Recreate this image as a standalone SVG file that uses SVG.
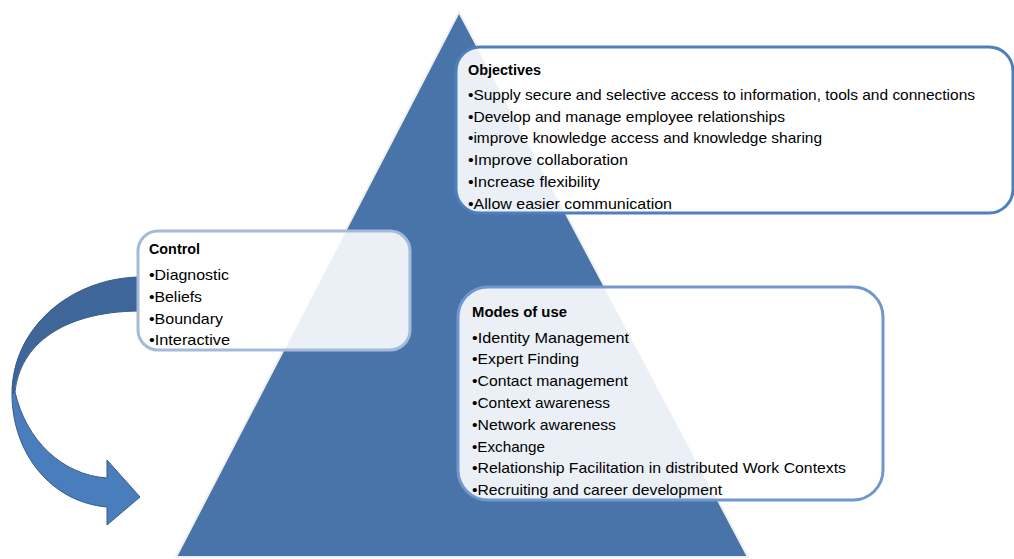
<svg xmlns="http://www.w3.org/2000/svg" width="1014" height="559" viewBox="0 0 1014 559">
<style>
.t{font-family:"Liberation Sans",Arial,sans-serif;font-size:15px;fill:#000}
.b{font-weight:bold}
.box{fill:#ffffff;fill-opacity:0.89;stroke-width:3}
</style>
<rect width="1014" height="559" fill="#ffffff"/>
<g id="pyramid">
<polygon points="459,12 748,557 176,557" fill="#4874aa" stroke="#f0f0f0" stroke-width="2"/>
</g>
<g id="connectors">
<path d="M138,277 C70,279 12,328 12,394 L15,392 C20,345 62,312 138,311 Z" fill="#3f6699" stroke="#385d8a" stroke-width="1"/>
<path d="M12,394 C12,452 50,502 107,507 L107,525 L140,497 L107,460 L107,478 C62,475 26,440 15,392 Z" fill="#4a7dbb" stroke="#385d8a" stroke-width="1"/>
</g>
<g id="objectives">
<rect class="box" x="456" y="47" width="557" height="166" rx="24" stroke="#4f7fbd"/>
<text class="t b" x="468" y="75" textLength="73" lengthAdjust="spacingAndGlyphs">Objectives</text>
<text class="t" x="468" y="100" textLength="507" lengthAdjust="spacingAndGlyphs">•Supply secure and selective access to information, tools and connections</text>
<text class="t" x="468" y="122" textLength="317" lengthAdjust="spacingAndGlyphs">•Develop and manage employee relationships</text>
<text class="t" x="468" y="143" textLength="354" lengthAdjust="spacingAndGlyphs">•improve knowledge access and knowledge sharing</text>
<text class="t" x="468" y="165" textLength="160" lengthAdjust="spacingAndGlyphs">•Improve collaboration</text>
<text class="t" x="468" y="187" textLength="132" lengthAdjust="spacingAndGlyphs">•Increase flexibility</text>
<text class="t" x="468" y="209" textLength="204" lengthAdjust="spacingAndGlyphs">•Allow easier communication</text>
</g>
<g id="control">
<rect class="box" x="138" y="231" width="272" height="119" rx="20" stroke="#a3badb"/>
<text class="t b" x="149" y="254" textLength="51" lengthAdjust="spacingAndGlyphs">Control</text>
<text class="t" x="149" y="280" textLength="80" lengthAdjust="spacingAndGlyphs">•Diagnostic</text>
<text class="t" x="149" y="302" textLength="53" lengthAdjust="spacingAndGlyphs">•Beliefs</text>
<text class="t" x="149" y="324" textLength="74" lengthAdjust="spacingAndGlyphs">•Boundary</text>
<text class="t" x="149" y="345" textLength="81" lengthAdjust="spacingAndGlyphs">•Interactive</text>
</g>
<g id="modes">
<rect class="box" x="458" y="287" width="425" height="213" rx="30" stroke="#7297cd"/>
<text class="t b" x="472" y="317" textLength="95" lengthAdjust="spacingAndGlyphs">Modes of use</text>
<text class="t" x="472" y="343" textLength="157" lengthAdjust="spacingAndGlyphs">•Identity Management</text>
<text class="t" x="472" y="364" textLength="107" lengthAdjust="spacingAndGlyphs">•Expert Finding</text>
<text class="t" x="472" y="386" textLength="156" lengthAdjust="spacingAndGlyphs">•Contact management</text>
<text class="t" x="472" y="408" textLength="138" lengthAdjust="spacingAndGlyphs">•Context awareness</text>
<text class="t" x="472" y="430" textLength="144" lengthAdjust="spacingAndGlyphs">•Network awareness</text>
<text class="t" x="472" y="452" textLength="73" lengthAdjust="spacingAndGlyphs">•Exchange</text>
<text class="t" x="472" y="473" textLength="374" lengthAdjust="spacingAndGlyphs">•Relationship Facilitation in distributed Work Contexts</text>
<text class="t" x="472" y="495" textLength="250" lengthAdjust="spacingAndGlyphs">•Recruiting and career development</text>
</g>
</svg>
